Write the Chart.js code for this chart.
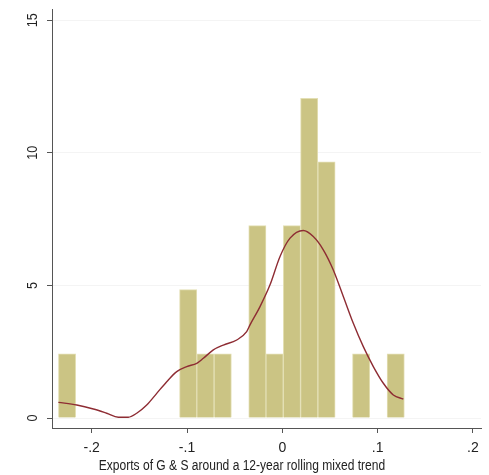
<!DOCTYPE html>
<html>
<head>
<meta charset="utf-8">
<script src="https://cdn.jsdelivr.net/npm/chart.js@4.4.1/dist/chart.umd.min.js"></script>
<style>
  html, body { margin: 0; padding: 0; background: #fff; }
  #wrap { width: 489px; height: 475px; }
</style>
</head>
<body>
<div id="wrap"><canvas id="histChart" width="489" height="475"></canvas></div>
<script>
// histogram bins (centres) and density heights
const binCenters = [-0.2259, -0.2077, -0.1896, -0.1714, -0.1533, -0.1351, -0.1170, -0.0988, -0.0807, -0.0625,
                    -0.0444, -0.0262, -0.0081, 0.0101, 0.0282, 0.0464, 0.0645, 0.0827, 0.1008, 0.1190];
const binDensity = [2.42, 0, 0, 0, 0, 0, 0, 4.84, 2.42, 2.42,
                    0, 7.25, 2.42, 7.25, 12.05, 9.66, 0, 2.42, 0, 2.42];

// kernel density curve
const kdeX = [-0.2350, -0.2157, -0.1983, -0.1843, -0.1721, -0.1616, -0.1528, -0.1423, -0.1318, -0.1213,
              -0.1108, -0.1003, -0.0898, -0.0829, -0.0724, -0.0619, -0.0478, -0.0374, -0.0339, -0.0234,
              -0.0129, -0.0024, 0.0081, 0.0220, 0.0325, 0.0430, 0.0535, 0.0640, 0.0745, 0.0850,
              0.0955, 0.1060, 0.1165, 0.1270];
const kdeY = [0.59, 0.49, 0.34, 0.18, 0.03, 0.03, 0.18, 0.49, 0.93, 1.37,
              1.75, 1.94, 2.06, 2.25, 2.57, 2.75, 2.94, 3.26, 3.51, 4.20,
              5.02, 6.09, 6.78, 7.07, 6.84, 6.34, 5.58, 4.58, 3.57, 2.69,
              1.94, 1.31, 0.87, 0.71];

const xTicks = [-0.2, -0.1, 0, 0.1, 0.2];
const xTickLabels = ['-.2', '-.1', '0', '.1', '.2'];
const yTicks = [0, 5, 10, 15];
const xTitle = 'Exports of G & S around a 12-year rolling mixed trend';

const fontFam = "'Liberation Sans', Arial, sans-serif";

// y tick labels rotated and a narrow x title, as in the Stata graph
const stataText = {
    id: 'stataText',
    afterDraw(chart) {
        const s = chart.scales.y;
        const ctx = chart.ctx;
        ctx.save();
        ctx.font = '14px ' + fontFam;
        ctx.fillStyle = '#222';
        ctx.textAlign = 'center';
        ctx.textBaseline = 'middle';
        yTicks.forEach(v => {
            const y = s.getPixelForValue(v);
            ctx.save();
            ctx.translate(s.left + 33, y);
            ctx.rotate(-Math.PI / 2);
            ctx.scale(0.9, 1);
            ctx.fillText(String(v), 0, 0);
            ctx.restore();
        });
        // x title
        ctx.save();
        ctx.translate(242, 466);
        ctx.scale(0.86, 1);
        ctx.fillText(xTitle, 0, 0);
        ctx.restore();
        ctx.restore();
    }
};

const ctx = document.getElementById('histChart').getContext('2d');
new Chart(ctx, {
    type: 'bar',
    data: {
        datasets: [{
            type: 'line',
            data: kdeX.map((x, i) => ({ x: x, y: kdeY[i] })),
            borderColor: '#8e2c33',
            borderWidth: 1.4,
            pointRadius: 0,
            cubicInterpolationMode: 'monotone',
            fill: false,
            order: 0
        }, {
            type: 'bar',
            data: binCenters.map((x, i) => ({ x: x, y: binDensity[i] })),
            backgroundColor: '#cbc484',
            borderColor: '#e3dfb4',
            borderWidth: 1,
            barPercentage: 1,
            categoryPercentage: 1,
            order: 1
        }]
    },
    options: {
        responsive: false,
        animation: false,
        layout: { padding: { left: 0, right: 8, top: 9, bottom: 0 } },
        plugins: {
            legend: { display: false },
            tooltip: { enabled: false }
        },
        scales: {
            x: {
                type: 'linear',
                offset: false,
                min: -0.2417,
                max: 0.2085,
                afterBuildTicks: (scale) => { scale.ticks = xTicks.map(v => ({ value: v })); },
                afterFit: (scale) => { scale.height = 47; },
                grid: { drawOnChartArea: false, tickLength: 5, tickColor: '#555', offset: false },
                border: { color: '#555', width: 1 },
                ticks: {
                    padding: 7,
                    maxRotation: 0,
                    autoSkip: false,
                    color: '#222',
                    font: { family: fontFam, size: 14 },
                    callback: (v) => {
                        const i = xTicks.findIndex(t => Math.abs(t - v) < 1e-9);
                        return i >= 0 ? xTickLabels[i] : '';
                    }
                }
            },
            y: {
                min: -0.377,
                max: 15.42,
                afterBuildTicks: (scale) => { scale.ticks = yTicks.map(v => ({ value: v })); },
                afterFit: (scale) => { scale.width = 52; },
                grid: { color: '#f4f4f4', tickLength: 5, tickColor: '#555' },
                border: { color: '#555', width: 1 },
                ticks: { display: false }
            }
        }
    },
    plugins: [stataText]
});
</script>
</body>
</html>
